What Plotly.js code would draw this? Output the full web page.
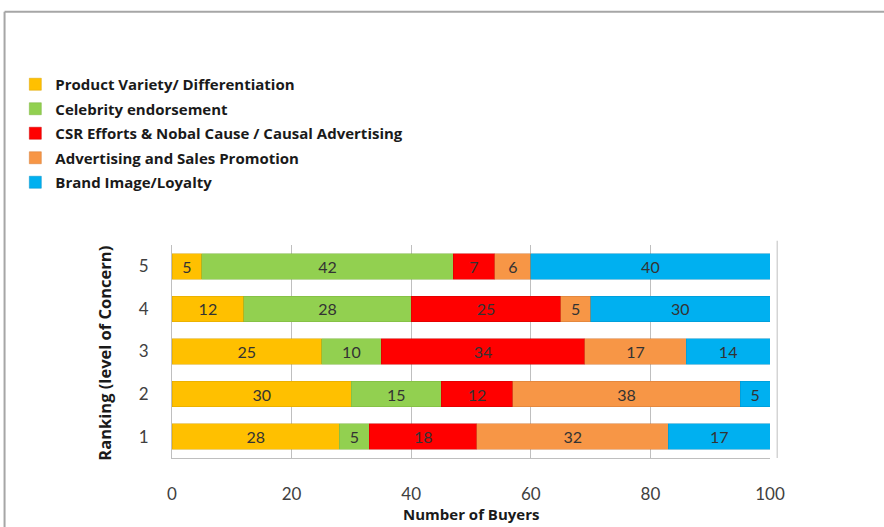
<!DOCTYPE html>
<html>
<head>
<meta charset="utf-8">
<script src="https://cdn.plot.ly/plotly-3.0.1.min.js"></script>
<style>html,body{margin:0;padding:0;background:#fff;}#chart{width:884px;height:527px;}</style>
</head>
<body>
<div id="chart"></div>
<script>
const rankings = ['1', '2', '3', '4', '5'];
const seriesNames = [
  'Product Variety/ Differentiation',
  'Celebrity endorsement',
  'CSR Efforts & Nobal Cause / Causal Advertising',
  'Advertising and Sales Promotion',
  'Brand Image/Loyalty'
];
const productVariety = [28, 30, 25, 12, 5];
const celebrity = [5, 15, 10, 28, 42];
const csrEfforts = [18, 12, 34, 25, 7];
const advertising = [32, 38, 17, 5, 6];
const brandImage = [17, 5, 14, 30, 40];
const xTicks = [0, 20, 40, 60, 80, 100];
const xTitle = 'Number of Buyers';
const yTitle = 'Ranking (level of Concern)';

const colors = ['#FFC000', '#92D050', '#FF0000', '#F79646', '#00B0F0'];
const edge = ['#D9A300', '#7AB33C', '#CC0000', '#D47A35', '#0090C8'];
const allValues = [productVariety, celebrity, csrEfforts, advertising, brandImage];

const traces = allValues.map((vals, i) => ({
  type: 'bar',
  orientation: 'h',
  name: seriesNames[i],
  legendgroup: 'g' + i,
  y: rankings,
  x: vals,
  width: 0.6,
  marker: {color: colors[i], line: {color: edge[i], width: 0.5}},
  text: vals.map(String),
  textposition: 'inside',
  insidetextanchor: 'middle',
  textangle: 0,
  textfont: {family: 'Lato, "Open Sans", sans-serif', size: 16, color: '#333333'},
  cliponaxis: false,
  hoverinfo: 'x+name'
}));

const layout = {
  width: 884,
  height: 527,
  paper_bgcolor: '#ffffff',
  plot_bgcolor: '#ffffff',
  barmode: 'stack',
  margin: {l: 172, r: 114, t: 245, b: 69},
  font: {family: '"Open Sans", Lato, sans-serif', color: '#404040'},
  showlegend: true,
  legend: {
    x: -0.262, xanchor: 'left', y: 1.831, yanchor: 'top',
    traceorder: 'grouped',
    font: {family: '"Open Sans", Lato, sans-serif', size: 15, color: '#1a1a1a', weight: 'bold'},
    itemwidth: 30, tracegroupgap: 2,
    bgcolor: 'rgba(0,0,0,0)'
  },
  xaxis: {
    range: [0, 100],
    tickvals: xTicks,
    ticktext: xTicks.map(String),
    showgrid: true,
    gridcolor: '#BFBFBF',
    gridwidth: 1,
    zeroline: false,
    showline: true,
    linecolor: '#BFBFBF',
    ticks: '',
    ticklabelstandoff: 21,
    tickfont: {family: 'Lato, "Open Sans", sans-serif', size: 17, color: '#404040'},
    fixedrange: true
  },
  yaxis: {
    type: 'category',
    range: [-0.5, 4.5],
    showgrid: false,
    zeroline: false,
    showline: true,
    linecolor: '#BFBFBF',
    ticks: '',
    ticklabelstandoff: 19,
    tickfont: {family: 'Lato, "Open Sans", sans-serif', size: 17, color: '#404040'},
    fixedrange: true
  },
  annotations: [
    {text: xTitle, xref: 'paper', yref: 'paper', x: 0.5, y: -0.262, xanchor: 'center', yanchor: 'middle', showarrow: false,
     font: {family: '"Open Sans", Lato, sans-serif', size: 15, color: '#1a1a1a', weight: 'bold'}},
    {text: yTitle, xref: 'paper', yref: 'paper', x: -0.112, y: 0.49, xanchor: 'center', yanchor: 'middle', showarrow: false, textangle: -90,
     font: {family: '"Open Sans", Lato, sans-serif', size: 16.5, color: '#1a1a1a', weight: 'bold'}}
  ],
  shapes: [
    {type: 'line', xref: 'paper', yref: 'paper', x0: -0.28, x1: 1.25, y0: 2.095, y1: 2.095, line: {color: '#A6A6A6', width: 2}},
    {type: 'line', xref: 'paper', yref: 'paper', x0: -0.28, x1: -0.28, y0: 2.095, y1: -0.33, line: {color: '#A6A6A6', width: 2}},
    {type: 'line', xref: 'paper', yref: 'paper', x0: 1.012, x1: 1.012, y0: 1.02, y1: 0.0, line: {color: '#BFBFBF', width: 1}}
  ]
};

Plotly.newPlot('chart', traces, layout, {displayModeBar: false, staticPlot: true});
</script>
</body>
</html>
